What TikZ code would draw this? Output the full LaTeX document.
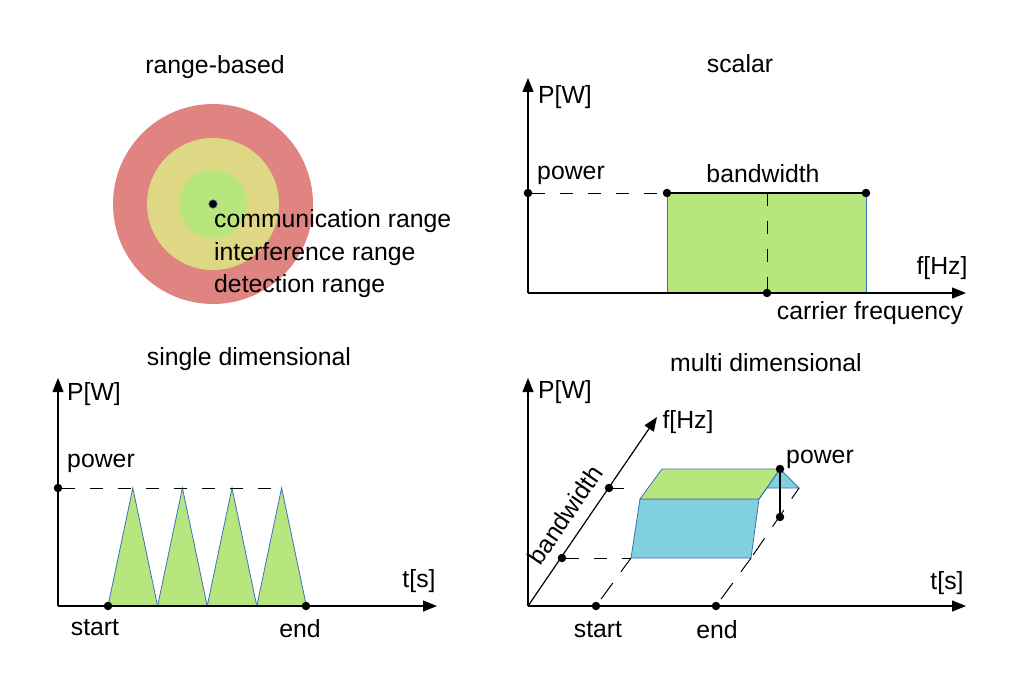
\documentclass[tikz,border=0pt]{standalone}
\usepackage{fontspec}
\setmainfont{Liberation Sans}
\usetikzlibrary{arrows.meta}
\definecolor{rangered}{HTML}{E08482}
\definecolor{rangeyellow}{HTML}{DED784}
\definecolor{patchgreen}{HTML}{B8E67E}
\definecolor{patchcyan}{HTML}{81D0DF}
\definecolor{edgeblue}{HTML}{3D6FBF}
\tikzset{
  axis/.style={line width=1.2pt,-{Triangle[length=14pt,width=11pt]}},
  guide/.style={line width=1pt,dash pattern=on 13pt off 15pt},
  pdot/.style={circle,fill=black,inner sep=0pt,minimum size=8.5pt},
  lbl/.style={font=\fontsize{24.8}{30}\selectfont,inner sep=0pt},
  patch/.style={draw=edgeblue,line width=0.8pt},
}
\begin{document}
\begin{tikzpicture}[x=1pt,y=-1pt]
    \useasboundingbox (0,0) rectangle (1017,690);
    % range-based
    \node[lbl] (rangetitle) at (215,67) {range-based};
    \fill[rangered] (213,204) circle (100pt);
    \fill[rangeyellow] (213,204) circle (66pt);
    \fill[patchgreen] (213,204) circle (34pt);
    \node[pdot,draw=edgeblue,line width=0.6pt] (src) at (213,204) {};
    \node[lbl,anchor=base west] (commlbl) at (214,227) {communication range};
    \node[lbl,anchor=base west] (interlbl) at (214,260) {interference range};
    \node[lbl,anchor=base west] (detectlbl) at (214,292) {detection range};

    % scalar
    \node[lbl] (scalartitle) at (740,64) {scalar};
    \coordinate (sO) at (528,293);
    \coordinate (sYtip) at (528,78);
    \coordinate (sXtip) at (966,293);
    \coordinate (sBL) at (667,293);
    \coordinate (sBR) at (866,293);
    \filldraw[fill=patchgreen,patch] (667,293) rectangle (866,193);
    \draw[axis] (sO) -- (sYtip);
    \draw[axis] (sO) -- (sXtip);
    \node[pdot] (sPow) at (528,193) {};
    \node[pdot] (sTL) at (667,193) {};
    \node[pdot] (sTR) at (866,193) {};
    \node[pdot] (sCar) at (767,293) {};
    \draw[line width=1.2pt] (sTL) -- (sTR);
    \draw[guide] (sPow) -- (sTL);
    \draw[guide] (767,193) -- (sCar);
    \node[lbl] (sPW) at (565,97) {P[W]};
    \node[lbl] (sPowLbl) at (571,175) {power};
    \node[lbl] (sBwLbl) at (763,174) {bandwidth};
    \node[lbl] (sFLbl) at (942,268) {f[Hz]};
    \node[lbl] (sCarLbl) at (870,313) {carrier frequency};

    % single dimensional
    \node[lbl] (singletitle) at (249,359) {single dimensional};
    \coordinate (dO) at (58,606);
    \coordinate (dYtip) at (58,378);
    \coordinate (dXtip) at (437,606);
    \foreach \i in {0,...,3}
        \filldraw[fill=patchgreen,patch] (108+49.6*\i,606) -- (132.8+49.6*\i,488) -- (157.6+49.6*\i,606) -- cycle;
    \draw[axis] (dO) -- (dYtip);
    \draw[axis] (dO) -- (dXtip);
    \node[pdot] (dPow) at (58,488) {};
    \coordinate (dPowEnd) at (283,488);
    \draw[guide] (dPow) -- (dPowEnd);
    \node[pdot] (dStart) at (108,606) {};
    \node[pdot] (dEnd) at (306,606) {};
    \node[lbl] (dPW) at (94,394) {P[W]};
    \node[lbl] (dPowLbl) at (101,463) {power};
    \node[lbl] (dTLbl) at (419,581) {t[s]};
    \node[lbl] (dStartLbl) at (95,628) {start};
    \node[lbl] (dEndLbl) at (300,629) {end};

    % multi dimensional
    \node[lbl] (multititle) at (766,363) {multi dimensional};
    \coordinate (mO) at (528,606);
    \coordinate (mYtip) at (528,378);
    \coordinate (mXtip) at (966,606);
    \coordinate (mFtip) at (657,417);
    \coordinate (mFL) at (631,558);
    \coordinate (mFR) at (751,558);
    \coordinate (mTR) at (759,499);
    \coordinate (mTL) at (640,499);
    \coordinate (mBL) at (662,469);
    \coordinate (mSide) at (767,488);
    \coordinate (mSpike) at (799,488);
    \filldraw[fill=patchcyan,patch] (mFL) -- (mFR) -- (mTR) -- (mTL) -- cycle;
    \filldraw[fill=patchgreen,patch] (mTL) -- (mBL) -- (780,469) -- (mTR) -- cycle;
    \filldraw[fill=patchcyan,patch] (780,469) -- (mSpike) -- (mSide) -- cycle;
    \draw[patch] (mTR) -- (mSide);
    \draw[axis] (mO) -- (mYtip);
    \draw[axis] (mO) -- (mXtip);
    \draw[axis] (mO) -- (mFtip);
    \node[pdot] (mBw1) at (562,558) {};
    \node[pdot] (mBw2) at (609,488) {};
    \node[pdot] (mStart) at (596,606) {};
    \node[pdot] (mEnd) at (716,606) {};
    \node[pdot] (mPow) at (780,469) {};
    \node[pdot] (mPowLow) at (780,517) {};
    \coordinate (mBw2End) at (634,488);
    \draw[guide] (mBw1) -- (mFL);
    \draw[guide,dash phase=2pt] (mBw2) -- (mBw2End);
    \draw[guide,dash pattern=on 20pt off 14pt,dash phase=-4pt] (mStart) -- (mFL);
    \draw[guide,dash pattern=on 20pt off 14pt,dash phase=-4pt] (mEnd) -- (mFR);
    \draw[guide,dash pattern=on 20pt off 14pt,dash phase=-4pt] (mFR) -- (mSpike);
    \draw[line width=1.2pt] (mPow) -- (mPowLow);
    \node[lbl] (mPW) at (565,392) {P[W]};
    \node[lbl] (mFLbl) at (688,422) {f[Hz]};
    \node[lbl] (mPowLbl) at (820,459) {power};
    \node[lbl] (mTLbl) at (947,583) {t[s]};
    \node[lbl] (mStartLbl) at (598,630) {start};
    \node[lbl] (mEndLbl) at (717,630) {end};
    \node[lbl,rotate=55.7] (mBwLbl) at (565,515) {bandwidth};
\end{tikzpicture}
\end{document}
